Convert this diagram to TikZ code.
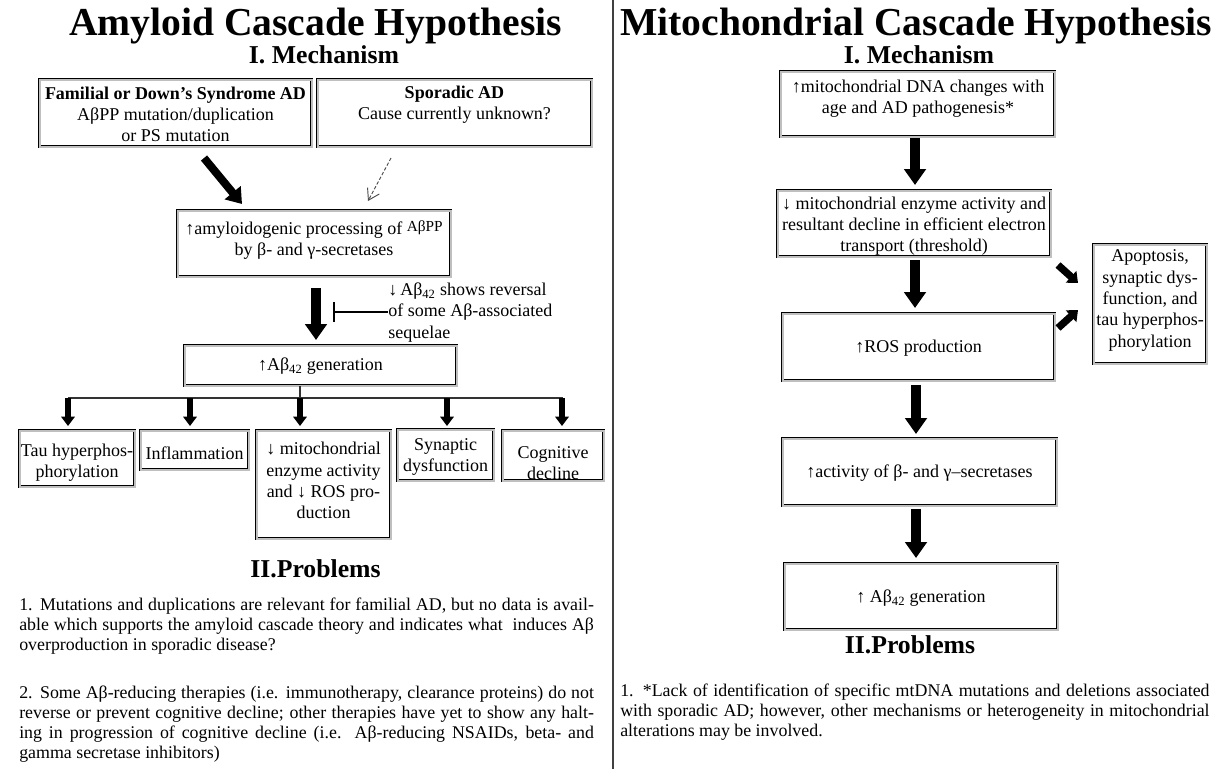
\documentclass[tikz,border=0pt]{standalone}
\usepackage{fontspec}
\setmainfont{Liberation Serif}
\usetikzlibrary{arrows.meta}
\newcommand\jlL[1]{\makebox[431pt][s]{#1}}
\newcommand\jlR[1]{\makebox[442pt][s]{#1}}
\begin{document}
\begin{tikzpicture}[x=0.75pt,y=-0.75pt,
  bx/.style={draw=black, line width=0.6pt, double=gray!50, double distance=1.5pt, inner sep=0pt},
  txt/.style={align=center, inner sep=0pt, font=\fontsize{13.5}{16}\selectfont},
  para/.style={align=left, inner sep=0pt, anchor=west, font=\fontsize{13.4}{15}\selectfont},
  ttl/.style={anchor=base, inner sep=0pt, font=\fontsize{29.7}{32}\selectfont\bfseries},
  sub/.style={anchor=base, inner sep=0pt, font=\fontsize{19.3}{22}\selectfont\bfseries},
  big/.style={line width=7.5pt, -{Triangle[width=16pt,length=12pt]}},
  sm/.style={line width=4.5pt, -{Triangle[width=10pt,length=7pt]}},
  fat/.style={line width=5.5pt, -{Triangle[width=11.5pt,length=7pt]}},
  tree/.style={line width=1.4pt, draw=black!80}
]
\path[use as bounding box, fill=white] (0,0) rectangle (1217,769);

% divider
\coordinate (dtop) at (613,0);
\coordinate (dbot) at (613,769);
\draw[line width=1.2pt, black!75] (dtop) -- (dbot);

% ===== LEFT =====
\node[ttl] (tL) at (315.5,35) {Amyloid Cascade Hypothesis};
\node[sub] (mL) at (324,63.5) {I. Mechanism};

\node[bx, minimum width=272*0.75pt, minimum height=67*0.75pt] (fam) at (175.5,113) {};
\node[txt] (famt) at (175.5,114.5) {\textbf{Familial or Down’s Syndrome AD}\\AβPP mutation/duplication\\or PS mutation};
\node[bx, minimum width=274*0.75pt, minimum height=67*0.75pt] (spo) at (454.5,113) {};
\node[txt] (spot) at (454.5,104.5) {\textbf{Sporadic AD}\\Cause currently unknown?};

\node[bx, minimum width=273*0.75pt, minimum height=66*0.75pt] (amy) at (314,243.5) {};
\node[txt] (amyt) at (314,240) {↑amyloidogenic processing of \raisebox{2.5pt}{\fontsize{11.5}{12}\selectfont AβPP}\\by β- and γ-secretases};

\coordinate (a1s) at (204,158);
\coordinate (a1e) at (242,204);
\draw[line width=6pt, -{Triangle[width=15pt,length=11pt]}] (a1s) -- (a1e);
\coordinate (a2s) at (391,158);
\coordinate (a2e) at (368,201);
\draw[black!70, line width=0.7pt, dash pattern=on 2.5pt off 1.5pt, -{Straight Barb[length=8pt,width=10pt,line width=0.7pt]}] (a2s) -- (a2e);

\node[bx, minimum width=272*0.75pt, minimum height=40*0.75pt] (gen) at (320.5,365.5) {};
\node[txt] (gent) at (320.5,366) {↑Aβ\textsubscript{42} generation};

\coordinate (b1s) at (316,288);
\coordinate (b1e) at (316,340);
\draw[big] (b1s) -- (b1e);

\node[txt, align=left, anchor=west] (inht) at (388,312.5) {↓\,Aβ\textsubscript{42} shows reversal\\of some Aβ-associated\\sequelae};
\coordinate (inhs) at (388,312);
\coordinate (inhe) at (333,312);
\draw[line width=1.3pt, -{Bar[width=15pt,line width=1.5pt]}] (inhs) -- (inhe);

% tree
\coordinate (tr) at (300,398);
\coordinate (trL) at (68,398);
\coordinate (trR) at (563,398);
\draw[tree] (gen.south -| tr) -- (tr);
\draw[tree] (trL) -- (trR);

\node[bx, minimum width=115*0.75pt, minimum height=56*0.75pt] (tau) at (77,458.5) {};
\node[txt] (taut) at (77,463) {Tau hyperphos-\\phorylation};
\node[bx, minimum width=108*0.75pt, minimum height=39*0.75pt] (inf) at (194.5,450) {};
\node[txt] (inft) at (194.5,453) {Inflammation};
\node[bx, minimum width=134*0.75pt, minimum height=108*0.75pt] (mit) at (323.5,484.5) {};
\node[txt] (mitt) at (323.5,480.5) {↓ mitochondrial\\enzyme activity\\and ↓ ROS pro-\\duction};
\node[bx, minimum width=96*0.75pt, minimum height=51*0.75pt] (syn) at (445.5,455) {};
\node[txt] (synt) at (445.5,457) {Synaptic\\dysfunction};
\node[bx, minimum width=101*0.75pt, minimum height=50*0.75pt] (cog) at (553,455.5) {};
\node[txt] (cogt) at (553,463) {Cognitive\\decline};

\foreach \n/\x in {tau/68, inf/190, mit/300, syn/447, cog/562}{
  \coordinate (s\n) at (\x,398);
  \draw[sm] (s\n) -- (\x,426);
}

\node[sub] (pL) at (315.5,577) {II.Problems};
\node[para] (p1) at (19,626) {\jlL{1. Mutations and duplications are relevant for familial AD, but no data is avail-}\\\jlL{able which supports the amyloid cascade theory and indicates what\ \ induces Aβ}\\overproduction in sporadic disease?};
\node[para] (p2) at (19,724) {\jlL{2. Some Aβ-reducing therapies (i.e. immunotherapy, clearance proteins) do not}\\\jlL{reverse or prevent cognitive decline; other therapies have yet to show any halt-}\\\jlL{ing in progression of cognitive decline (i.e. Aβ-reducing NSAIDs, beta- and}\\gamma secretase inhibitors)};

% ===== RIGHT =====
\node[ttl] (tR) at (916,35) {Mitochondrial Cascade Hypothesis};
\node[sub] (mR) at (919,63.5) {I. Mechanism};

\node[bx, minimum width=274*0.75pt, minimum height=65*0.75pt] (dna) at (917.5,104) {};
\node[txt] (dnat) at (918,99) {↑mitochondrial DNA changes with\\age and AD pathogenesis*};
\node[bx, minimum width=273*0.75pt, minimum height=66*0.75pt] (enz) at (914,223.5) {};
\node[txt] (enzt) at (914,226) {↓ mitochondrial enzyme activity and\\resultant decline in efficient electron\\transport (threshold)};
\node[bx, minimum width=272*0.75pt, minimum height=67*0.75pt] (ros) at (918.5,347) {};
\node[txt] (rost) at (918.5,348) {↑ROS production};
\node[bx, minimum width=274*0.75pt, minimum height=67*0.75pt] (act) at (919.5,472) {};
\node[txt] (actt) at (919.5,473) {↑activity of β- and γ–secretases};
\node[bx, minimum width=273*0.75pt, minimum height=66*0.75pt] (gen2) at (921,596.5) {};
\node[txt] (gen2t) at (921,598) {↑ Aβ\textsubscript{42} generation};
\node[bx, minimum width=113*0.75pt, minimum height=119*0.75pt] (apo) at (1150,304) {};
\node[txt] (apot) at (1150,300.5) {Apoptosis,\\synaptic dys-\\function, and\\tau hyperphos-\\phorylation};

\draw[big] (dna.south -| 915,0) ++(0,1) -- (915,185);
\draw[big] (enz.south -| 915,0) ++(0,3) -- (915,308);
\draw[big] (ros.south -| 916,0) ++(0,4) -- (916,434);
\draw[big] (act.south -| 916,0) ++(0,3) -- (916,558);

\coordinate (f1s) at (1058,265);
\coordinate (f1e) at (1078,283);
\draw[fat] (f1s) -- (f1e);
\coordinate (f2s) at (1058,328);
\coordinate (f2e) at (1078,310);
\draw[fat] (f2s) -- (f2e);

\node[sub] (pR) at (910,653) {II.Problems};
\node[para] (p3) at (620,712) {\jlR{1. *Lack of identification of specific mtDNA mutations and deletions associated}\\\jlR{with sporadic AD; however, other mechanisms or heterogeneity in mitochondrial}\\alterations may be involved.};
\end{tikzpicture}
\end{document}
